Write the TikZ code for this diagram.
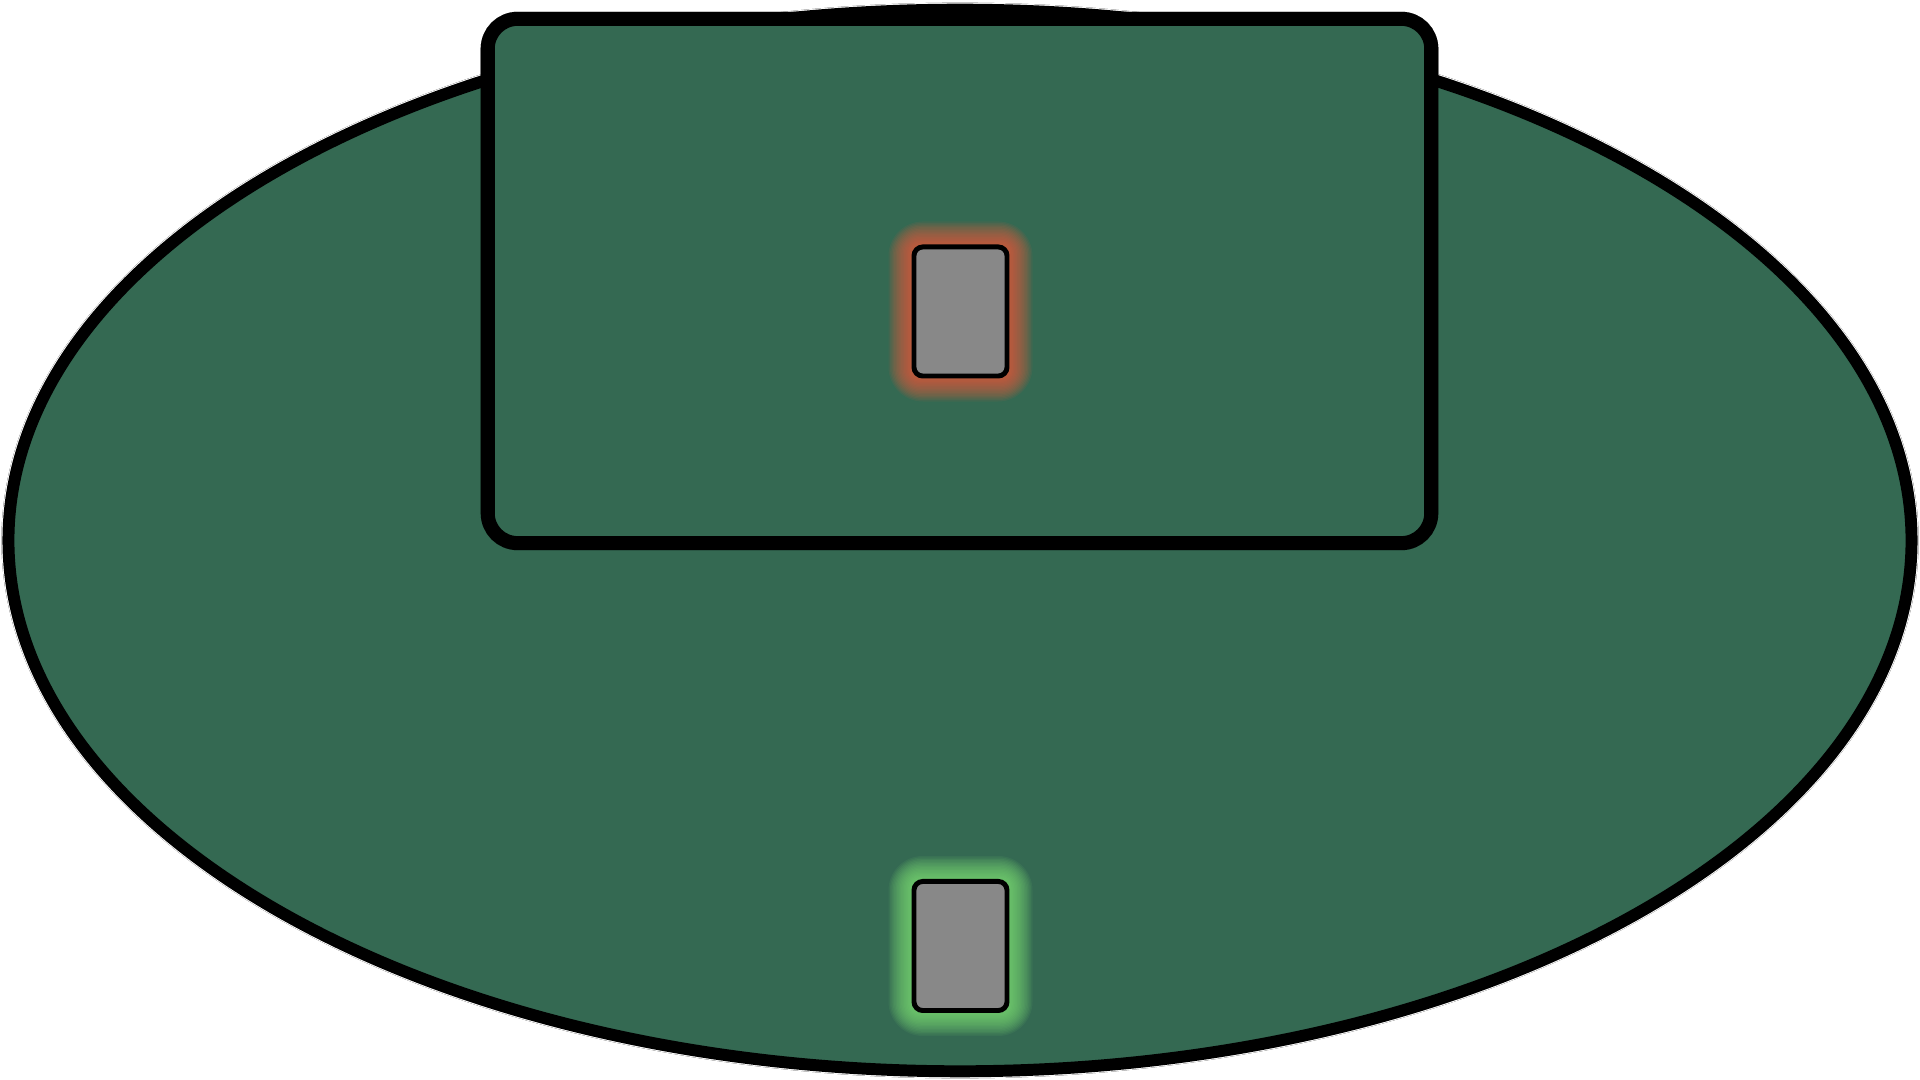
\documentclass[tikz,border=0pt]{standalone}
\usetikzlibrary{shapes.geometric,shadows.blur}
\definecolor{felt}{RGB}{52,105,82}
\definecolor{cardgrey}{RGB}{136,136,136}
\definecolor{glowred}{RGB}{240,90,60}
\definecolor{glowgreen}{RGB}{130,230,120}
\tikzset{
  px/.style={x=0.01cm,y=-0.01cm},
  tablebody/.style={ellipse,draw=black,fill=felt,line width=3.4pt,
    minimum width=19.02cm,minimum height=10.61cm,inner sep=0pt,
    blur shadow={shadow xshift=0pt,shadow yshift=0pt,shadow blur radius=2pt,shadow opacity=40}},
  zonebox/.style={rectangle,rounded corners=8.5pt,draw=black,fill=felt,line width=4pt,
    minimum width=9.43cm,minimum height=5.24cm,inner sep=0pt,
    blur shadow={shadow xshift=0pt,shadow yshift=0pt,shadow blur radius=2pt,shadow opacity=40}},
  cardbox/.style={rectangle,rounded corners=2.5pt,draw=black,fill=cardgrey,line width=1.4pt,
    minimum width=0.93cm,minimum height=1.29cm,inner sep=0pt},
}
\newcommand{\glowat}[2]{%
  \foreach \k in {0,...,15}{
    \fill[#2,opacity=0.075,rounded corners={(3+0.45*\k)*1pt}]
      ([xshift=-\k*0.14cm/10-0.02cm,yshift=-\k*0.14cm/10-0.02cm]#1.south west)
      rectangle ([xshift=\k*0.14cm/10+0.02cm,yshift=\k*0.14cm/10+0.02cm]#1.north east);
  }%
}
\begin{document}
\begin{tikzpicture}[px]
\useasboundingbox[fill=white] (0,0) rectangle (1920,1080);
\node[tablebody] (table) at (960,540.5) {};
\node[zonebox] (zone) at (959.5,281) {};
\path (960.5,311.5) node[cardbox,draw=none,fill=none] (redg) {};
\path (960.5,946) node[cardbox,draw=none,fill=none] (greeng) {};
\glowat{redg}{glowred}
\glowat{greeng}{glowgreen}
\node[cardbox] (dealer) at (960.5,311.5) {};
\node[cardbox] (player) at (960.5,946) {};
\end{tikzpicture}
\end{document}
